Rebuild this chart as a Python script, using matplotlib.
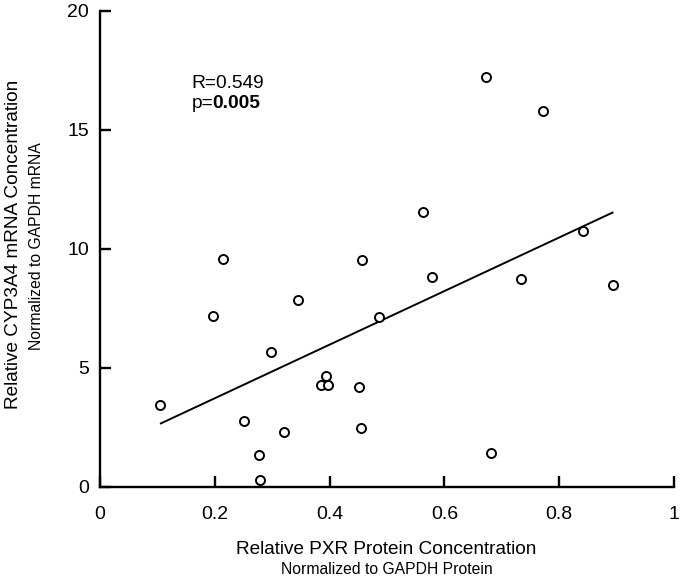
import numpy as np
import matplotlib
matplotlib.use("Agg")
import matplotlib.pyplot as plt

plt.rcParams['font.family'] = ['Liberation Sans', 'DejaVu Sans']

pxr = [0.1045, 0.1974, 0.2137, 0.2503, 0.2764, 0.2787, 0.2974, 0.3206,
       0.3455, 0.3856, 0.3932, 0.3978, 0.4510, 0.4540, 0.4564, 0.4866,
       0.5627, 0.5784, 0.6725, 0.6818, 0.7329, 0.7723, 0.8420, 0.8943]
cyp = [3.43, 7.17, 9.55, 2.76, 1.32, 0.28, 5.66, 2.30,
       7.84, 4.27, 4.65, 4.27, 4.20, 2.48, 9.52, 7.13,
       11.55, 8.80, 17.20, 1.40, 8.73, 15.79, 10.73, 8.49]
xticks = [0, 0.2, 0.4, 0.6, 0.8, 1]
xticklabels = ["0", "0.2", "0.4", "0.6", "0.8", "1"]
yticks = [0, 5, 10, 15, 20]

x = np.array(pxr)
y = np.array(cyp)
slope, intercept = np.polyfit(x, y, 1)
xl = np.array([x.min(), x.max()])

fig = plt.figure(figsize=(6.82, 5.79), dpi=100)
ax = fig.add_axes([100/682, 1-486.7/579, 574/682, 476/579])

ax.plot(xl, slope*xl + intercept, color='black', lw=1.4, solid_capstyle='butt')
ax.plot(x, y, linestyle='none', marker='o', markersize=6.5, markerfacecolor='white',
        markeredgecolor='black', markeredgewidth=1.4, zorder=3)

ax.set_xlim(0, 1)
ax.set_ylim(0, 20)
ax.set_xticks(xticks)
ax.set_xticklabels(xticklabels)
ax.set_yticks(yticks)
for s in ['top', 'right']:
    ax.spines[s].set_visible(False)
for s in ['left', 'bottom']:
    ax.spines[s].set_linewidth(1.7)
ax.tick_params(direction='in', length=8, width=1.7, labelsize=14, colors='black')
ax.tick_params(axis='x', pad=14)
ax.tick_params(axis='y', pad=8)

ax.text(0.16, 16.96, "R=0.549", fontsize=13.8, va='center', ha='left')
ax.text(0.16, 16.1, r"p=", fontsize=13.8, va='center', ha='left')
ax.text(0.16 + 0.036, 16.1, "0.005", fontsize=13.8, va='center', ha='left', fontweight='bold')

fig.text(386.5/682, 1-549/579, "Relative PXR Protein Concentration", fontsize=13.7,
         ha='center', va='center')
fig.text(386.5/682, 1-570/579, "Normalized to GAPDH Protein", fontsize=11.3,
         ha='center', va='center')
fig.text(14/682, 1-244/579, "Relative CYP3A4 mRNA Concentration", fontsize=13.7,
         ha='center', va='center', rotation=90)
fig.text(37/682, 1-246.5/579, "Normalized to GAPDH mRNA", fontsize=11.3,
         ha='center', va='center', rotation=90)

fig.savefig("out.png", dpi=100)
